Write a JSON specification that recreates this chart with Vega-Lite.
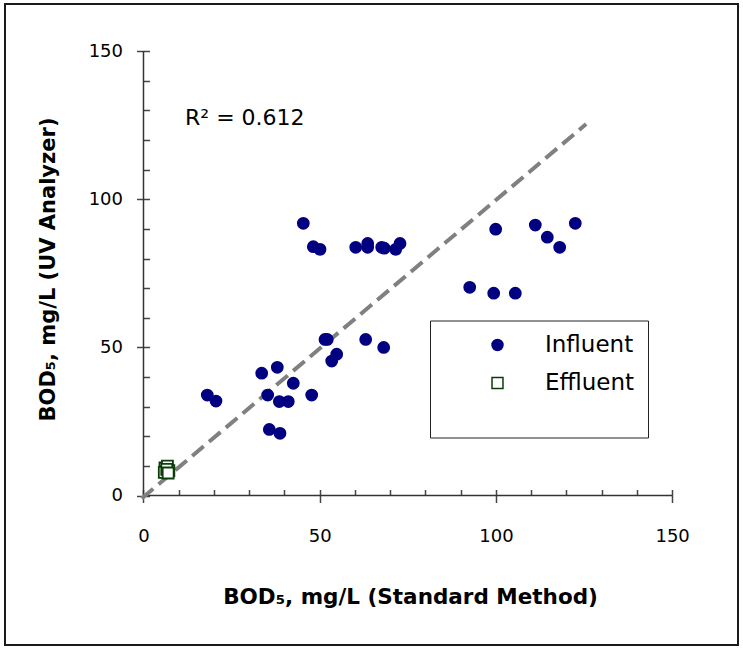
{
  "$schema": "https://vega.github.io/schema/vega-lite/v6.json",
  "width": 733,
  "height": 641,
  "autosize": {"type": "none"},
  "padding": {"left": 5, "top": 4, "right": 5, "bottom": 10},
  "background": "white",
  "config": {"view": {"stroke": "#1a1a1a", "strokeWidth": 2}, "font": "DejaVu Sans"},
  "datasets": {
    "axislines": [
      {"x1": 0, "y1": 0, "x2": 150, "y2": 0},
      {"x1": 0, "y1": 0, "x2": 0, "y2": 150}
    ],
    "trend": [
      {"x": -0.5, "y": -1.0},
      {"x": 125.6, "y": 125.4}
    ],
    "pts": [
      {"series": "Influent", "x": 45.35, "y": 91.9},
      {"series": "Influent", "x": 48.18, "y": 84.0},
      {"series": "Influent", "x": 50.09, "y": 83.1},
      {"series": "Influent", "x": 60.22, "y": 83.8},
      {"series": "Influent", "x": 63.62, "y": 85.1},
      {"series": "Influent", "x": 63.62, "y": 83.8},
      {"series": "Influent", "x": 67.59, "y": 83.8},
      {"series": "Influent", "x": 68.33, "y": 83.5},
      {"series": "Influent", "x": 71.57, "y": 83.1},
      {"series": "Influent", "x": 72.79, "y": 85.1},
      {"series": "Influent", "x": 99.94, "y": 89.9},
      {"series": "Influent", "x": 111.18, "y": 91.3},
      {"series": "Influent", "x": 114.59, "y": 87.2},
      {"series": "Influent", "x": 118.1, "y": 83.8},
      {"series": "Influent", "x": 122.53, "y": 91.9},
      {"series": "Influent", "x": 92.57, "y": 70.3},
      {"series": "Influent", "x": 99.38, "y": 68.3},
      {"series": "Influent", "x": 105.51, "y": 68.3},
      {"series": "Influent", "x": 51.5, "y": 52.7},
      {"series": "Influent", "x": 52.16, "y": 52.7},
      {"series": "Influent", "x": 63.05, "y": 52.7},
      {"series": "Influent", "x": 68.16, "y": 50.0},
      {"series": "Influent", "x": 53.41, "y": 45.4},
      {"series": "Influent", "x": 54.82, "y": 47.7},
      {"series": "Influent", "x": 33.54, "y": 41.3},
      {"series": "Influent", "x": 37.97, "y": 43.3},
      {"series": "Influent", "x": 42.51, "y": 37.9},
      {"series": "Influent", "x": 18.1, "y": 33.9},
      {"series": "Influent", "x": 20.57, "y": 31.9},
      {"series": "Influent", "x": 35.24, "y": 33.9},
      {"series": "Influent", "x": 38.54, "y": 31.7},
      {"series": "Influent", "x": 41.09, "y": 31.7},
      {"series": "Influent", "x": 47.73, "y": 33.9},
      {"series": "Influent", "x": 35.7, "y": 22.3},
      {"series": "Influent", "x": 38.73, "y": 21.0},
      {"series": "Effluent", "x": 6.1, "y": 9.3},
      {"series": "Effluent", "x": 6.8, "y": 9.9},
      {"series": "Effluent", "x": 6.4, "y": 8.0},
      {"series": "Effluent", "x": 7.2, "y": 8.4},
      {"series": "Effluent", "x": 5.9, "y": 7.8},
      {"series": "Effluent", "x": 6.6, "y": 8.8},
      {"series": "Effluent", "x": 7.0, "y": 7.6}
    ],
    "note": [
      {"x": 11.8, "y": 125.1, "label": "R² = 0.612"}
    ]
  },
  "layer": [
    {
      "data": {"name": "axislines"},
      "mark": {"type": "rule", "color": "#333333", "strokeWidth": 1.5},
      "encoding": {
        "x": {
          "field": "x1", "type": "quantitative",
          "scale": {"domain": [-39.3, 168.7], "nice": false, "zero": false},
          "axis": {
            "orient": "bottom", "offset": -149.5, "values": [0, 50, 100, 150],
            "domain": false, "grid": false, "tickSize": 7, "tickColor": "#444444", "tickWidth": 1.5,
            "labelFontSize": 18, "labelColor": "black", "labelPadding": 25, "labelFlush": false, "labelOverlap": false,
            "title": "BOD₅, mg/L (Standard Method)", "titleFontSize": 21.5, "titleFontWeight": "bold", "titleColor": "black",
            "titleX": 405, "titleY": 101.5, "titleAlign": "center", "titleBaseline": "middle"
          }
        },
        "x2": {"field": "x2"},
        "y": {
          "field": "y1", "type": "quantitative",
          "scale": {"domain": [-50.47, 165.94], "nice": false, "zero": false},
          "axis": {
            "orient": "left", "offset": -138.5, "values": [0, 50, 100, 150],
            "domain": false, "grid": false, "tickSize": 7, "tickColor": "#444444", "tickWidth": 1.5,
            "labelFontSize": 18, "labelColor": "black", "labelPadding": 14, "labelFlush": false, "labelOverlap": false,
            "title": "BOD₅, mg/L (UV Analyzer)", "titleFontSize": 21, "titleFontWeight": "bold", "titleColor": "black",
            "titleX": -95.5, "titleY": 265, "titleAngle": -90, "titleAlign": "center", "titleBaseline": "middle"
          }
        },
        "y2": {"field": "y2"}
      }
    },
    {
      "data": {"name": "trend"},
      "mark": {"type": "line", "color": "#808080", "strokeWidth": 4, "strokeDash": [15, 7]},
      "encoding": {
        "x": {
          "field": "x", "type": "quantitative",
          "scale": {"domain": [-39.3, 168.7], "nice": false, "zero": false},
          "axis": {
            "orient": "bottom", "offset": -149.5,
            "values": [0, 10, 20, 30, 40, 50, 60, 70, 80, 90, 100, 110, 120, 130, 140, 150],
            "domain": false, "grid": false, "labels": false, "title": null,
            "tickSize": -6, "tickColor": "#444444", "tickWidth": 1.5
          }
        },
        "y": {
          "field": "y", "type": "quantitative",
          "scale": {"domain": [-50.47, 165.94], "nice": false, "zero": false},
          "axis": {
            "orient": "left", "offset": -138.5,
            "values": [0, 10, 20, 30, 40, 50, 60, 70, 80, 90, 100, 110, 120, 130, 140, 150],
            "domain": false, "grid": false, "labels": false, "title": null,
            "tickSize": -6, "tickColor": "#444444", "tickWidth": 1.5
          }
        }
      }
    },
    {
      "data": {"name": "pts"},
      "mark": {"type": "point", "opacity": 1, "strokeWidth": 1.8, "size": 120},
      "encoding": {
        "x": {"field": "x", "type": "quantitative", "scale": {"domain": [-39.3, 168.7], "nice": false, "zero": false}, "axis": null},
        "y": {"field": "y", "type": "quantitative", "scale": {"domain": [-50.47, 165.94], "nice": false, "zero": false}, "axis": null},
        "shape": {
          "field": "series", "type": "nominal",
          "scale": {"domain": ["Influent", "Effluent"], "range": ["circle", "square"]},
          "legend": {
            "orient": "none", "legendX": 425, "legendY": 316.5, "title": " ", "titleOrient": "bottom",
            "titleFontSize": 22, "titlePadding": 8, "padding": 13, "strokeColor": "#222222", "fillColor": "white",
            "labelFontSize": 23, "labelColor": "black", "labelFont": "DejaVu Sans", "symbolOffset": 43, "labelOffset": 36,
            "rowPadding": 14, "symbolSize": 120, "symbolStrokeWidth": 1.5, "labelLimit": 400
          }
        },
        "fill": {
          "field": "series", "type": "nominal",
          "scale": {"domain": ["Influent", "Effluent"], "range": ["#000080", "#ffffff"]},
          "legend": {
            "orient": "none", "legendX": 425, "legendY": 316.5, "title": " ", "titleOrient": "bottom",
            "titleFontSize": 22, "titlePadding": 8, "padding": 13, "strokeColor": "#222222", "fillColor": "white",
            "labelFontSize": 23, "labelColor": "black", "labelFont": "DejaVu Sans", "symbolOffset": 43, "labelOffset": 36,
            "rowPadding": 14, "symbolSize": 120, "symbolStrokeWidth": 1.5, "labelLimit": 400
          }
        },
        "stroke": {
          "field": "series", "type": "nominal",
          "scale": {"domain": ["Influent", "Effluent"], "range": ["#000080", "#0b3d0b"]},
          "legend": {
            "orient": "none", "legendX": 425, "legendY": 316.5, "title": " ", "titleOrient": "bottom",
            "titleFontSize": 22, "titlePadding": 8, "padding": 13, "strokeColor": "#222222", "fillColor": "white",
            "labelFontSize": 23, "labelColor": "black", "labelFont": "DejaVu Sans", "symbolOffset": 43, "labelOffset": 36,
            "rowPadding": 14, "symbolSize": 120, "symbolStrokeWidth": 1.5, "labelLimit": 400
          }
        }
      }
    },
    {
      "data": {"name": "note"},
      "mark": {"type": "text", "align": "left", "baseline": "alphabetic", "fontSize": 22, "font": "DejaVu Sans", "color": "black"},
      "encoding": {
        "x": {"field": "x", "type": "quantitative", "scale": {"domain": [-39.3, 168.7], "nice": false, "zero": false}, "axis": null},
        "y": {"field": "y", "type": "quantitative", "scale": {"domain": [-50.47, 165.94], "nice": false, "zero": false}, "axis": null},
        "text": {"field": "label"}
      }
    }
  ],
  "resolve": {"axis": {"x": "independent", "y": "independent"}}
}
